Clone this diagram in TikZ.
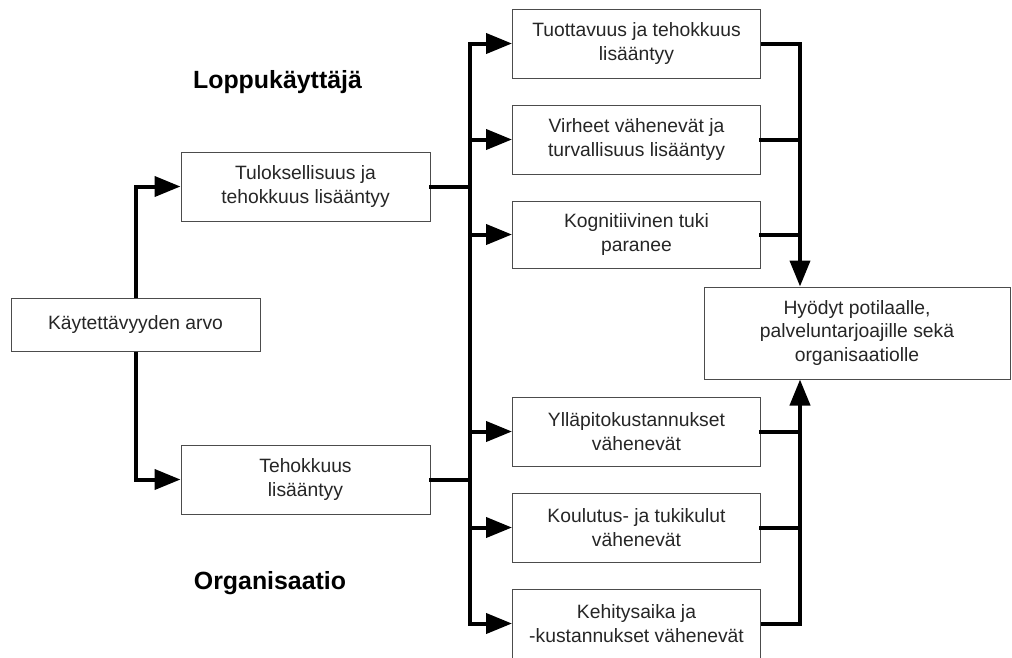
\documentclass[tikz,border=0pt]{standalone}
\usepackage{fontspec}
\setmainfont{Liberation Sans}
\usetikzlibrary{arrows.meta}
\tikzset{
  box/.style={draw=black!70, fill=white, line width=1pt, minimum width=249pt,
    minimum height=69pt, align=center, text=black!85,
    font=\fontsize{19.3}{23.5}\selectfont},
  pipe/.style={line width=4pt, line cap=rect},
  conn/.style={line width=4pt, -{Triangle[length=26pt,width=20pt]}},
  heading/.style={font=\fontsize{24.9}{28}\selectfont\bfseries}
}
\begin{document}
\begin{tikzpicture}[x=1pt,y=-1pt]
  \useasboundingbox (0,0) rectangle (1012,657);
  \coordinate (ml) at (470,0);
  \coordinate (mr) at (800,0);
  % left side
  \node[box, minimum height=53pt] (arvo) at (135.5,324.5) {Käytettävyyden arvo};
  \node[box] (tulos) at (305.5,186.5) {Tuloksellisuus ja\\tehokkuus lisääntyy};
  \node[box] (teho) at (305.5,479.5) {Tehokkuus\\lisääntyy};
  \node[heading] (loppu) at (277.5,82) {Loppukäyttäjä};
  \node[heading] (org) at (270,583) {Organisaatio};
  % right column
  \node[box, minimum width=248pt] (tuott) at (636.5,43.5) {Tuottavuus ja tehokkuus\\lisääntyy};
  \node[box, minimum width=248pt] (virh) at (636.5,139.5) {Virheet vähenevät ja\\turvallisuus lisääntyy};
  \node[box, minimum width=248pt, minimum height=67pt] (kogn) at (636.5,234.5) {Kognitiivinen tuki\\paranee};
  \node[box, minimum width=248pt] (yllap) at (636.5,431.5) {Ylläpitokustannukset\\vähenevät};
  \node[box, minimum width=248pt] (koul) at (636.5,527.5) {Koulutus- ja tukikulut\\vähenevät};
  \node[box, minimum width=248pt] (kehit) at (636.5,623.5) {Kehitysaika ja\\-kustannukset vähenevät};
  \node[box, minimum width=306pt, minimum height=92pt] (hyod) at (857,333) {Hyödyt potilaalle,\\palveluntarjoajille sekä\\organisaatiolle};
  % from the value to the two groups
  \draw[conn] (arvo.north) |- (tulos.west);
  \draw[conn] (arvo.south) |- (teho.west);
  % middle trunk
  \draw[pipe] (tulos.east) -- (tulos.east -| ml);
  \draw[pipe] (teho.east) -- (teho.east -| ml);
  \draw[pipe] (tuott.west -| ml) -- (kehit.west -| ml);
  \draw[conn] (tuott.west -| ml) -- (tuott.west);
  \draw[conn] (virh.west -| ml) -- (virh.west);
  \draw[conn] (kogn.west -| ml) -- (kogn.west);
  \draw[conn] (yllap.west -| ml) -- (yllap.west);
  \draw[conn] (koul.west -| ml) -- (koul.west);
  \draw[conn] (kehit.west -| ml) -- (kehit.west);
  % into the benefits
  \draw[conn] (tuott.east) -| (mr |- hyod.north);
  \draw[pipe] (virh.east) -- (virh.east -| mr);
  \draw[pipe] (kogn.east) -- (kogn.east -| mr);
  \draw[conn] (kehit.east) -| (mr |- hyod.south);
  \draw[pipe] (yllap.east) -- (yllap.east -| mr);
  \draw[pipe] (koul.east) -- (koul.east -| mr);
\end{tikzpicture}
\end{document}
